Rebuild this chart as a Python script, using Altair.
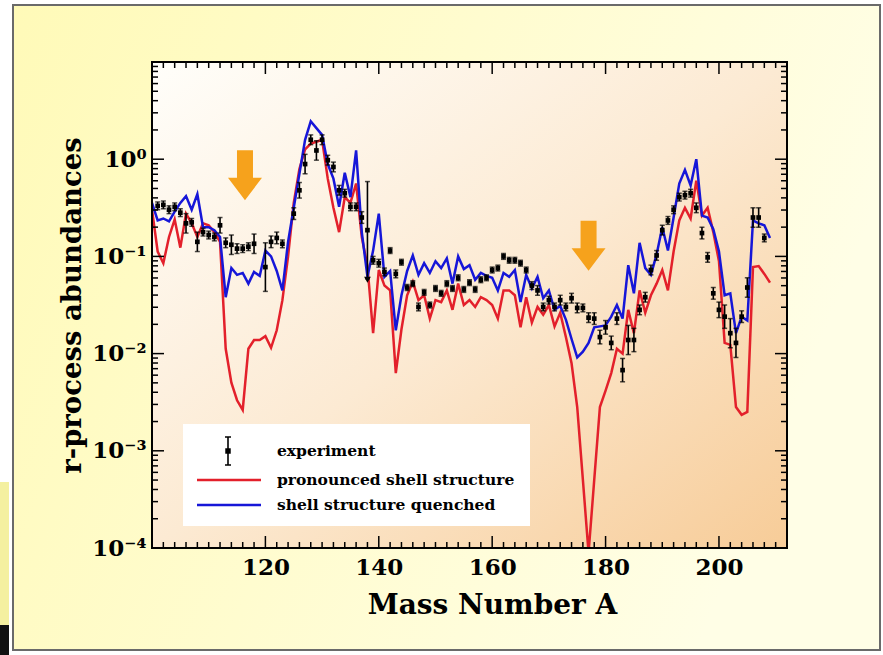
import altair as alt
import pandas as pd
import numpy as np

# ---------------- data ----------------
mass_A = list(range(100, 210))

# log10 of r-process abundance, "shell structure quenched" (blue)
quenched_log10 = [
    -0.45, -0.63, -0.61, -0.64, -0.54, -0.45, -0.38, -0.52, -0.36, -0.70,
    -0.70, -0.73, -0.80, -1.42, -1.12, -1.19, -1.17, -1.28, -1.16, -1.20,
    -0.94, -1.00, -1.15, -1.35, -0.85, -0.50, -0.15, 0.20, 0.39, 0.32,
    0.25, -0.05, -0.20, -0.49, -0.14, -0.39, 0.09, -0.75, -1.21, -0.94,
    -0.56, -1.21, -1.15, -1.76, -1.40, -1.15, -0.99, -1.19, -1.07, -1.17,
    -1.05, -1.12, -1.02, -1.28, -1.00, -1.13, -1.09, -1.24, -1.17, -1.20,
    -1.22, -1.35, -1.17, -1.21, -1.14, -1.47, -1.19, -1.33, -1.21, -1.43,
    -1.35, -1.55, -1.51, -1.65, -1.85, -2.04, -1.98, -1.89, -1.73, -1.72,
    -1.71, -1.62, -1.50, -1.64, -1.09, -1.38, -0.86, -1.12, -1.19, -0.98,
    -0.70, -0.94, -0.60, -0.25, -0.11, -0.27, 0.00, -0.58, -0.60, -0.72,
    -0.95, -1.40, -1.38, -1.79, -1.62, -1.66, -0.63, -0.66, -0.68, -0.81,
]

# log10 of r-process abundance, "pronounced shell structure" (red)
pronounced_log10 = [
    -0.52, -0.95, -1.07, -0.80, -0.62, -0.91, -0.56, -0.66, -0.80, -0.66,
    -0.68, -0.75, -0.85, -1.95, -2.30, -2.48, -2.58, -1.95, -1.86, -1.86,
    -1.82, -1.94, -1.76, -1.45, -1.00, -0.45, -0.10, 0.10, 0.16, 0.18,
    0.20, -0.20, -0.50, -0.75, -0.39, -0.45, -0.25, -0.80, -1.10, -1.79,
    -1.14, -1.30, -1.35, -2.20, -1.75, -1.40, -1.26, -1.45, -1.40, -1.64,
    -1.45, -1.47, -1.35, -1.55, -1.28, -1.50, -1.45, -1.52, -1.42, -1.45,
    -1.50, -1.64, -1.35, -1.35, -1.40, -1.73, -1.42, -1.68, -1.52, -1.60,
    -1.50, -1.72, -1.58, -1.83, -2.10, -2.55, -3.30, -4.05, -3.30, -2.55,
    -2.38, -2.20, -1.95, -2.00, -1.55, -1.79, -1.35, -1.58, -1.40, -1.28,
    -1.14, -1.35, -0.95, -0.63, -0.50, -0.61, -0.22, -0.58, -0.50, -0.75,
    -1.05, -1.89, -1.91, -2.55, -2.63, -2.60, -1.11, -1.10, -1.18, -1.27,
]

exp_A = [101, 102, 103, 104, 105, 106, 107, 108, 109, 110, 111, 112, 113, 114, 115, 116, 117, 118,
         120, 121, 122, 123, 125, 126, 127, 128, 129, 130, 131, 132, 133, 134, 135, 136, 137, 138,
         139, 140, 141, 142, 143, 144, 145, 146, 147, 148, 149, 150, 151, 152, 153, 154, 155, 156,
         157, 158, 159, 160, 161, 162, 163, 164, 165, 166, 167, 168, 169, 170, 171, 172, 173, 174,
         175, 176, 177, 178, 179, 180, 181, 182, 183, 184, 185, 186, 187, 188, 189, 190, 191, 192,
         193, 194, 195, 196, 197, 198, 199, 200, 201, 202, 203, 204, 205, 206, 207, 208]
exp_log10 = [-0.48, -0.47, -0.52, -0.49, -0.55, -0.66, -0.65, -0.85, -0.75, -0.78, -0.80, -0.68, -0.86, -0.88, -0.92, -0.92, -0.90, -0.87,
             -1.11, -0.85, -0.81, -0.87, -0.56, -0.32, -0.05, 0.20, 0.09, 0.20, -0.01, -0.08, -0.32, -0.35, -0.49, -0.49, -0.60, -0.73,
             -1.04, -1.07, -1.16, -0.94, -1.18, -1.06, -1.32, -1.28, -1.52, -1.37, -1.50, -1.33, -1.38, -1.28, -1.33, -1.22, -1.34, -1.27,
             -1.34, -1.24, -1.22, -1.14, -1.12, -1.00, -1.04, -1.04, -1.07, -1.14, -1.30, -1.35, -1.52, -1.45, -1.52, -1.45, -1.52, -1.43,
             -1.53, -1.53, -1.63, -1.64, -1.83, -1.73, -1.89, -1.64, -2.17, -1.86, -1.86, -1.55, -1.42, -1.14, -0.99, -0.73, -0.63, -0.52,
             -0.39, -0.37, -0.35, -0.50, -0.76, -1.01, -1.38, -1.55, -1.62, -1.79, -1.89, -1.62, -1.32, -0.60, -0.60, -0.81]
exp_err_log10 = [0.04, 0.04, 0.04, 0.04, 0.04, 0.10, 0.04, 0.10, 0.04, 0.04, 0.04, 0.08, 0.05, 0.10, 0.05, 0.04, 0.04, 0.10,
                 0.25, 0.06, 0.06, 0.04, 0.06, 0.08, 0.10, 0.05, 0.10, 0.05, 0.05, 0.05, 0.05, 0.04, 0.04, 0.04, 0.06, 0.50,
                 0.04, 0.04, 0.04, 0.03, 0.04, 0.03, 0.03, 0.03, 0.04, 0.03, 0.03, 0.03, 0.03, 0.03, 0.03, 0.03, 0.03, 0.03,
                 0.03, 0.03, 0.03, 0.03, 0.03, 0.03, 0.03, 0.03, 0.03, 0.03, 0.04, 0.05, 0.04, 0.04, 0.04, 0.05, 0.04, 0.05,
                 0.05, 0.04, 0.05, 0.06, 0.07, 0.07, 0.07, 0.06, 0.12, 0.15, 0.12, 0.05, 0.05, 0.05, 0.05, 0.05, 0.04, 0.04,
                 0.04, 0.04, 0.04, 0.05, 0.06, 0.05, 0.06, 0.08, 0.12, 0.15, 0.15, 0.06, 0.10, 0.10, 0.10, 0.04]

limit_A = [138]
limit_log10 = [-1.24]

arrow_A = [116.4, 177.0]
arrow_v = [0.684, 0.129]

legend_labels = ["experiment", "pronounced shell structure", "shell structure quenched"]

x_major = [120, 140, 160, 180, 200]
x_minor = [a for a in range(100, 213, 2) if a not in x_major]
y_major = [1e-4, 1e-3, 1e-2, 1e-1, 1.0, 10.0]
y_minor = [m * 10.0 ** d for d in range(-4, 1) for m in range(2, 10)]

# ---------------- layout ----------------
W, H = 635, 486
PL, PT = 152, 62
RED = "#E3202B"
BLUE = "#1616D8"
ORANGE = "#F6A21C"
FONT = "DejaVu Serif"

x_scale = alt.Scale(domain=[100, 212], nice=False, zero=False)
y_scale = alt.Scale(type="log", domain=[1e-4, 10], nice=False)

x_axis = alt.Axis(values=x_major, format="d", ticks=False, domain=False, grid=False, zindex=5,
                  labelFont=FONT, labelFontWeight="bold", labelFontSize=23, labelColor="black",
                  labelPadding=8, title="Mass Number A", titleFont=FONT, titleFontWeight="bold",
                  titleFontSize=28, titleColor="black", titlePadding=12, labelFlush=False,
                  titleX=492 - PL, titleAlign="center")
y_axis = alt.Axis(values=[1e-4, 1e-3, 1e-2, 1e-1, 1.0], ticks=False, domain=False, grid=False, zindex=5,
                  labelExpr="'10' + (datum.value > 0.5 ? '⁰' : datum.value > 0.05 ? '⁻¹' : datum.value > 0.005 ? '⁻²' : datum.value > 0.0005 ? '⁻³' : '⁻⁴')",
                  labelFont=FONT, labelFontWeight="bold", labelFontSize=23, labelColor="black",
                  labelPadding=6, title="r-process abundances", titleFont=FONT, titleFontWeight="bold",
                  titleFontSize=27.5, titleColor="black", titlePadding=5, labelFlush=False)


def X(field):
    return alt.X(field, scale=x_scale, axis=x_axis)


def Y(field):
    return alt.Y(field, scale=y_scale, axis=y_axis)


one = pd.DataFrame({"k": [0]})

lines_df = pd.DataFrame({
    "A": mass_A * 2,
    "v": list(10.0 ** np.array(pronounced_log10)) + list(10.0 ** np.array(quenched_log10)),
    "series": ["pronounced"] * len(mass_A) + ["quenched"] * len(mass_A),
})
exp_df = pd.DataFrame({
    "A": exp_A,
    "v": 10.0 ** np.array(exp_log10),
    "lo": 10.0 ** (np.array(exp_log10) - np.array(exp_err_log10)),
    "hi": 10.0 ** (np.array(exp_log10) + np.array(exp_err_log10)),
})
lim_df = pd.DataFrame({"A": limit_A, "v": 10.0 ** np.array(limit_log10)})
arrow_df = pd.DataFrame({"A": arrow_A, "v": arrow_v})

# slide background
slide_bg = alt.Chart(one).mark_rect(
    fill=alt.LinearGradient(gradient="linear", x1=0, y1=0, x2=1, y2=0.3,
                            stops=[alt.GradientStop(offset=0, color="#FFFAB8"),
                                   alt.GradientStop(offset=1, color="#FFFEE6")]),
    stroke="#6A6A6A", strokeWidth=2,
).encode(x=alt.value(13 - PL), x2=alt.value(880 - PL), y=alt.value(5 - PT), y2=alt.value(650 - PT))

side_yellow = alt.Chart(one).mark_rect(fill="#F4F0A0").encode(
    x=alt.value(-PL), x2=alt.value(9 - PL), y=alt.value(482 - PT), y2=alt.value(625 - PT))
side_black = alt.Chart(one).mark_rect(fill="#111111").encode(
    x=alt.value(-PL), x2=alt.value(9 - PL), y=alt.value(625 - PT), y2=alt.value(655 - PT))

plot_bg = alt.Chart(one).mark_rect(
    fill=alt.LinearGradient(gradient="linear", x1=0, y1=0, x2=1, y2=1,
                            stops=[alt.GradientStop(offset=0, color="#FFFEFA"),
                                   alt.GradientStop(offset=0.5, color="#FCEAD3"),
                                   alt.GradientStop(offset=1, color="#F7CC98")]),
).encode(x=alt.value(0), x2=alt.value(W), y=alt.value(0), y2=alt.value(H))

red_line = alt.Chart(lines_df).transform_filter(alt.datum.series == "pronounced").mark_line(
    color=RED, strokeWidth=2.5, clip=True).encode(x=X("A:Q"), y=Y("v:Q"))
blue_line = alt.Chart(lines_df).transform_filter(alt.datum.series == "quenched").mark_line(
    color=BLUE, strokeWidth=2.5, clip=True).encode(x=X("A:Q"), y=Y("v:Q"))

err_bars = alt.Chart(exp_df).mark_rule(color="black", strokeWidth=1.6).encode(
    x=X("A:Q"), y=Y("lo:Q"), y2="hi:Q")
cap_lo = alt.Chart(exp_df).mark_tick(color="black", orient="horizontal", size=5, thickness=1.5).encode(
    x=X("A:Q"), y=Y("lo:Q"))
cap_hi = alt.Chart(exp_df).mark_tick(color="black", orient="horizontal", size=5, thickness=1.5).encode(
    x=X("A:Q"), y=Y("hi:Q"))
exp_pts = alt.Chart(exp_df).mark_square(color="black", size=22, opacity=1).encode(
    x=X("A:Q"), y=Y("v:Q"))
lim_pts = alt.Chart(lim_df).mark_point(shape="triangle-down", filled=True, color="black", size=45, opacity=1).encode(
    x=X("A:Q"), y=Y("v:Q"))

ARROW = "M-0.32,-1 L0.32,-1 L0.32,0.1 L0.68,0.1 L0,1 L-0.68,0.1 L-0.32,0.1 Z"
arrows = alt.Chart(arrow_df).mark_point(shape=ARROW, filled=True, color=ORANGE, size=2500, opacity=1).encode(
    x=X("A:Q"), y=Y("v:Q"))

# legend
leg_box = alt.Chart(one).mark_rect(fill="white").encode(
    x=alt.value(183 - PL), x2=alt.value(530 - PL), y=alt.value(424 - PT), y2=alt.value(526 - PT))
leg_bar = alt.Chart(one).mark_rule(color="black", strokeWidth=1.6).encode(
    x=alt.value(228 - PL), y=alt.value(437 - PT), y2=alt.value(465 - PT))
leg_cap1 = alt.Chart(one).mark_rule(color="black", strokeWidth=1.5).encode(
    x=alt.value(225 - PL), x2=alt.value(231 - PL), y=alt.value(437 - PT))
leg_cap2 = alt.Chart(one).mark_rule(color="black", strokeWidth=1.5).encode(
    x=alt.value(225 - PL), x2=alt.value(231 - PL), y=alt.value(465 - PT))
leg_sq = alt.Chart(one).mark_square(color="black", size=30, opacity=1).encode(
    x=alt.value(228 - PL), y=alt.value(451 - PT))
leg_red = alt.Chart(one).mark_rule(color=RED, strokeWidth=2.5).encode(
    x=alt.value(197 - PL), x2=alt.value(261 - PL), y=alt.value(480 - PT))
leg_blue = alt.Chart(one).mark_rule(color=BLUE, strokeWidth=2.5).encode(
    x=alt.value(197 - PL), x2=alt.value(261 - PL), y=alt.value(505 - PT))
leg_texts = [
    alt.Chart(one).mark_text(align="left", baseline="middle", font=FONT, fontWeight="bold",
                             fontSize=15.5, color="black").encode(
        x=alt.value(277 - PL), y=alt.value(yy - PT), text=alt.value(lbl))
    for lbl, yy in zip(legend_labels, [451, 480, 505])
]

# frame and inward ticks
frame = alt.Chart(one).mark_rect(filled=False, stroke="black", strokeWidth=2).encode(
    x=alt.value(0), x2=alt.value(W), y=alt.value(0), y2=alt.value(H))


def xticks(vals, length):
    df = pd.DataFrame({"A": vals})
    b = alt.Chart(df).mark_rule(color="black", strokeWidth=1.5).encode(
        x=X("A:Q"), y=alt.value(H), y2=alt.value(H - length))
    t = alt.Chart(df).mark_rule(color="black", strokeWidth=1.5).encode(
        x=X("A:Q"), y=alt.value(0), y2=alt.value(length))
    return [b, t]


def yticks(vals, length):
    df = pd.DataFrame({"v": vals})
    l = alt.Chart(df).mark_rule(color="black", strokeWidth=1.5).encode(
        y=Y("v:Q"), x=alt.value(0), x2=alt.value(length))
    r = alt.Chart(df).mark_rule(color="black", strokeWidth=1.5).encode(
        y=Y("v:Q"), x=alt.value(W), x2=alt.value(W - length))
    return [l, r]


tick_layers = xticks(x_minor, 6) + xticks(x_major, 12) + yticks(y_minor, 6) + yticks(y_major, 12)

chart = alt.layer(
    slide_bg, side_yellow, side_black, plot_bg,
    red_line, blue_line, err_bars, cap_lo, cap_hi, exp_pts, lim_pts, arrows,
    leg_box, leg_bar, leg_cap1, leg_cap2, leg_sq, leg_red, leg_blue, *leg_texts,
    frame, *tick_layers,
).properties(
    width=W, height=H,
    autosize=alt.AutoSizeParams(type="none"),
    padding={"left": PL, "top": PT, "right": 883 - PL - W, "bottom": 655 - PT - H},
    background="white",
).configure_view(strokeWidth=0)

chart.save("out.html", embed_options={"renderer": "svg", "actions": False})
